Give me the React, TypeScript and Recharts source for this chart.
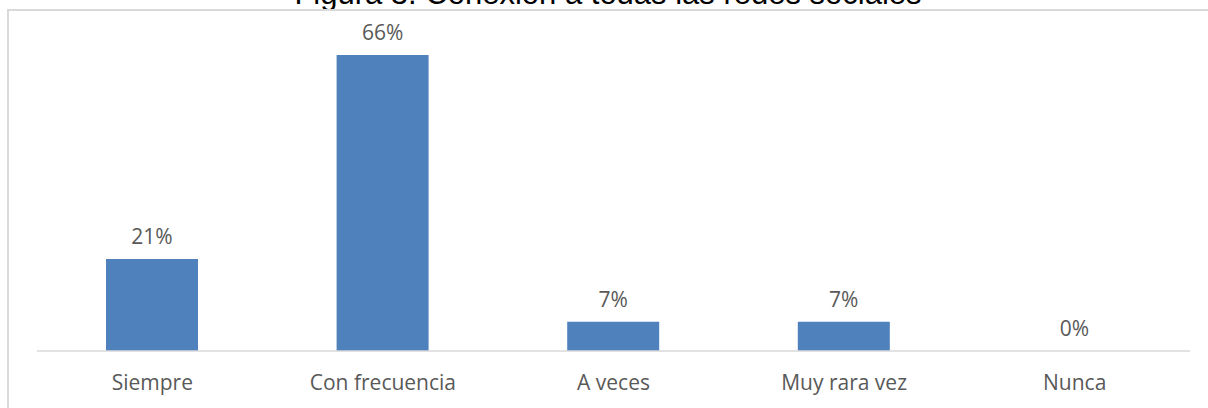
import { BarChart, Bar, XAxis, YAxis, LabelList } from "recharts"

const TITLE = "Figura 3. Conexión a todas las redes sociales"
const categories = ["Siempre", "Con frecuencia", "A veces", "Muy rara vez", "Nunca"]
const shares = [20.5, 66, 6.5, 6.5, 0]
const shareLabels = ["21%", "66%", "7%", "7%", "0%"]

const data = categories.map((name, i) => ({
  name,
  value: shares[i],
  label: shareLabels[i],
}))

const TEXT = "#595959"
const LABEL_FONT = "'Open Sans', Lato, sans-serif"

export default function App() {
  return (
    <div style={{ position: "relative", width: 1208, height: 408, overflow: "hidden", background: "#fff" }}>
      <style>{`body{margin:0}`}</style>
      <div
        style={{
          position: "absolute",
          left: 0,
          width: 1208,
          top: -24,
          textAlign: "center",
          fontFamily: "'Liberation Sans', Arial, sans-serif",
          fontSize: 31,
          lineHeight: "36px",
          color: "#000",
          paddingLeft: 8,
          boxSizing: "border-box",
        }}
      >
        {TITLE}
      </div>
      <div
        style={{
          position: "absolute",
          left: 7,
          top: 9,
          width: 1300,
          height: 500,
          borderTop: "2px solid #d9d9d9",
          borderLeft: "2px solid #d9d9d9",
          background: "#fff",
        }}
      />
      <div style={{ position: "absolute", left: 0, top: 0 }}>
        <BarChart
          width={1208}
          height={408}
          data={data}
          margin={{ top: 37, right: 18, bottom: 0, left: 37 }}
        >
          <YAxis hide domain={[0, 70]} />
          <XAxis
            dataKey="name"
            height={57}
            axisLine={{ stroke: "#d9d9d9", strokeWidth: 1.5 }}
            tickLine={false}
            tickSize={0}
            tickMargin={24}
            interval={0}
            tick={{ fill: TEXT, fontSize: 21, fontFamily: LABEL_FONT }}
          />
          <Bar dataKey="value" fill="#4f81bd" barSize={92} minPointSize={0.01} isAnimationActive={false}>
            <LabelList
              dataKey="label"
              position="top"
              offset={15}
              style={{ fill: TEXT, fontSize: 21, fontFamily: LABEL_FONT }}
            />
          </Bar>
        </BarChart>
      </div>
    </div>
  )
}
